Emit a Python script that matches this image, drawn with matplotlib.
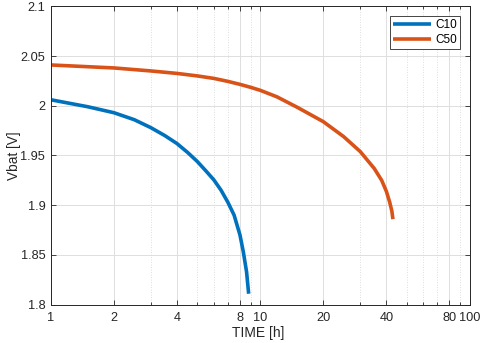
import numpy as np
import matplotlib
matplotlib.use('Agg')
import matplotlib.pyplot as plt
from matplotlib.ticker import FixedLocator, FuncFormatter, NullFormatter

plt.rcParams['font.family'] = ['Liberation Sans', 'DejaVu Sans']

# C10 discharge curve
t_c10 = [1, 1.5, 2, 2.5, 3, 3.5, 4, 4.5, 5, 5.5, 6, 6.5, 7, 7.5, 8, 8.3, 8.6, 8.8]
v_c10 = [2.006, 1.999, 1.993, 1.986, 1.978, 1.970, 1.962, 1.953, 1.944, 1.9345,
         1.9255, 1.915, 1.903, 1.890, 1.870, 1.853, 1.833, 1.811]

# C50 discharge curve
t_c50 = [1, 2, 3, 4, 5, 6, 7, 8, 9, 10, 12, 15, 20, 25, 30, 35, 38, 40, 41.5, 42.5, 43]
v_c50 = [2.041, 2.038, 2.035, 2.0325, 2.030, 2.0275, 2.0245, 2.0215, 2.0185, 2.0155,
         2.009, 1.9985, 1.984, 1.969, 1.954, 1.937, 1.925, 1.914, 1.903, 1.894, 1.886]

xticks = [1, 2, 4, 8, 10, 20, 40, 80, 100]
xminor = [3, 5, 6, 7, 9, 30, 50, 60, 70, 90]
yticks = [1.8, 1.85, 1.9, 1.95, 2.0, 2.05, 2.1]

fig = plt.figure(figsize=(4.8, 3.43), dpi=100)
ax = fig.add_axes([0.106, 0.1117, 0.8725, 0.870])

ax.plot(t_c10, v_c10, color='#0072BD', lw=2.6, label='C10', solid_capstyle='butt')
ax.plot(t_c50, v_c50, color='#D95319', lw=2.6, label='C50', solid_capstyle='butt')

ax.set_xscale('log')
ax.set_xlim(1, 100)
ax.set_ylim(1.8, 2.1)
ax.xaxis.set_major_locator(FixedLocator(xticks))
ax.xaxis.set_minor_locator(FixedLocator(xminor))
ax.xaxis.set_major_formatter(FuncFormatter(lambda v, p: '%g' % v))
ax.xaxis.set_minor_formatter(NullFormatter())
ax.yaxis.set_major_locator(FixedLocator(yticks))
ax.yaxis.set_major_formatter(FuncFormatter(lambda v, p: '%g' % v))

ax.grid(True, which='major', color='#dedede', lw=0.7)
ax.grid(True, which='minor', axis='x', color='#d4d4d4', lw=0.6, ls=(0, (1, 2)))
ax.set_axisbelow(True)

for s in ax.spines.values():
    s.set_color('#262626')
    s.set_linewidth(0.7)
ax.tick_params(which='both', direction='in', top=True, right=True,
               colors='#262626', labelsize=9.2, width=0.6)
ax.tick_params(which='major', length=3.5)
ax.tick_params(which='minor', length=2)
ax.tick_params(axis='x', pad=5)
ax.tick_params(axis='y', pad=4)

ax.set_xlabel('TIME [h]', fontsize=10, color='#262626', va='center')
ax.set_ylabel('Vbat [V]', fontsize=9.8, color='#262626', va='center')
ax.xaxis.set_label_coords(0.495, -0.095)
ax.yaxis.set_label_coords(-0.087, 0.5)

leg = ax.legend(loc='upper right', fontsize=8.5, fancybox=False, framealpha=1,
                edgecolor='#262626', handlelength=3.2, borderaxespad=0.85,
                handletextpad=0.35, borderpad=0.25, labelspacing=0.25)
leg.get_frame().set_linewidth(0.6)

fig.savefig('out.png', dpi=100)
